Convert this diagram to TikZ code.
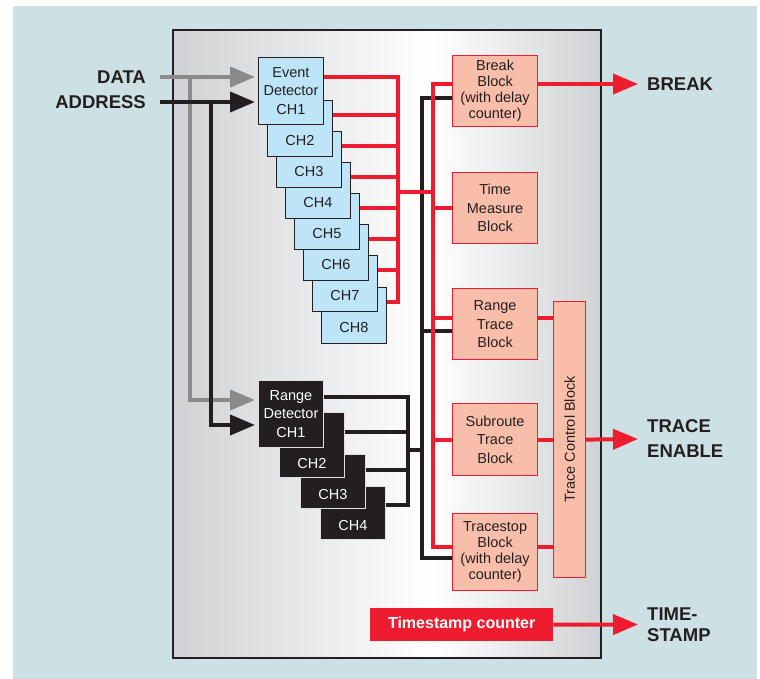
\documentclass[tikz,border=0pt]{standalone}
\usepackage{fontspec}
\setmainfont{Liberation Sans}
\usetikzlibrary{arrows.meta}
\definecolor{bgblue}{RGB}{205,224,228}
\definecolor{boxgray}{RGB}{207,209,212}
\definecolor{evblue}{RGB}{190,228,247}
\definecolor{rdred}{RGB}{237,28,46}
\definecolor{salmon}{RGB}{249,190,170}
\definecolor{inkblack}{RGB}{35,31,32}
\definecolor{dgray}{RGB}{138,138,138}

\begin{document}
\begin{tikzpicture}[x=1pt,y=-1pt,>={Triangle[length=25pt,width=20pt]},line join=miter,
  every node/.style={font=\fontsize{14.5}{18.5}\selectfont,text=inkblack,inner sep=0pt},
  evbox/.style={draw=inkblack,line width=0.9pt,fill=evblue,minimum width=65pt,anchor=north west,align=center},
  evch/.style={draw=inkblack,line width=0.9pt,fill=evblue,minimum width=65pt,anchor=north west,text height=45.5pt,text depth=10.5pt},
  rgbox/.style={draw=white!75!gray,line width=0.9pt,fill=inkblack,text=white,minimum width=65pt,anchor=north west,align=center},
  rgch/.style={draw=white!75!gray,line width=0.9pt,fill=inkblack,text=white,minimum width=65pt,anchor=north west,text depth=9pt},
  blk/.style={draw=rdred,line width=1.2pt,fill=salmon,minimum width=85pt,minimum height=71pt,anchor=north west,align=center},
  fourline/.style={font=\fontsize{14.5}{16}\selectfont},
  biglab/.style={font=\fontsize{18.5}{25}\selectfont\bfseries,align=left},
  redline/.style={draw=rdred,line width=4pt},
  blkline/.style={draw=inkblack,line width=4pt},
  grayline/.style={draw=dgray,line width=4pt}]

\useasboundingbox (0,0) rectangle (760,679);
\fill[bgblue] (13,6) rectangle (757,679);
\shade[left color=boxgray,right color=white] (173,30) rectangle (432,658);
\shade[left color=white,right color=boxgray] (432,30) rectangle (601,658);
\draw[line width=2.5pt,inkblack] (173,30) rectangle (601,658);

\node[biglab,anchor=east,inner xsep=14pt] (dlab) at (160,77) {DATA};
\node[biglab,anchor=east,inner xsep=14pt] (alab) at (160,102) {ADDRESS};

\node[evch] (ev8) at (321,287) {CH8};
\node[evch] (ev7) at (312,255) {CH7};
\node[evch] (ev6) at (303,224) {CH6};
\node[evch] (ev5) at (294,193) {CH5};
\node[evch] (ev4) at (285,162) {CH4};
\node[evch] (ev3) at (276,131) {CH3};
\node[evch] (ev2) at (267,100) {CH2};
\node[evbox,minimum height=67pt] (ev1) at (258,57) {Event\\Detector\\CH1};

\node[rgch,text height=44pt] (rg4) at (320,486) {CH4};
\node[rgch,text height=45pt] (rg3) at (300,454) {CH3};
\node[rgch,text height=56pt] (rg2) at (279,412) {CH2};
\node[rgbox,minimum height=67pt] (rg1) at (258,380) {Range\\Detector\\CH1};

\node[blk,fourline] (brk) at (452,55) {Break\\Block\\(with delay\\counter)};
\node[blk] (tm) at (452,172) {Time\\Measure\\Block};
\node[blk] (rt) at (452,288) {Range\\Trace\\Block};
\node[blk,minimum height=72pt] (sr) at (452,403) {Subroute\\Trace\\Block};
\node[blk,fourline,minimum height=77pt] (ts) at (452,513) {Tracestop\\Block\\(with delay\\counter)};
\node[blk,minimum width=32pt,minimum height=276pt] (tcb) at (553,301) {\rotatebox{90}{Trace Control Block}};
\node[fill=rdred,text=white,font=\fontsize{16}{18}\selectfont\bfseries,minimum width=183pt,minimum height=33pt,anchor=north west] (tsc) at (370,608) {Timestamp counter};

\node[biglab,anchor=west,inner xsep=9pt] (brklab) at (638,84) {BREAK};
\node[biglab,anchor=west,inner xsep=9pt] (trlab) at (638,439) {TRACE\\ENABLE};
\node[biglab,anchor=west,inner xsep=9pt,font=\fontsize{18.5}{21}\selectfont\bfseries] (tmlab) at (638,624.5) {TIME-\\STAMP};

\coordinate (evbus) at (398,192);
\coordinate (rjoin) at (433,192);
\coordinate (bjoin) at (422,450);
\coordinate (rgbus) at (408,450);
\coordinate (rtr) at ([yshift=-30pt]rt.north west);
\coordinate (tsr) at ([yshift=-34pt]ts.north west);

\draw[grayline,->,shorten >=3pt] (dlab.east) -- ([yshift=-20pt]ev1.north west);
\draw[grayline,->,shorten >=3pt] ([xshift=30pt]dlab.east) |- ([yshift=-20pt]rg1.north west);
\draw[blkline,->,shorten >=3pt] (alab.east) -- ([yshift=-45pt]ev1.north west);
\draw[blkline,->,shorten >=3pt] ([xshift=51pt]alab.east) |- ([yshift=-45pt]rg1.north west);

\draw[blkline] ([yshift=-17pt]rg1.north east) -| (rgbus);
\draw[blkline] ([yshift=-20pt]rg2.north east) -| (rgbus);
\draw[blkline] ([yshift=-16pt]rg3.north east) -| (rgbus);
\draw[blkline] ([yshift=-19pt]rg4.north east) -| (rgbus);
\draw[blkline] (rgbus) -- (bjoin);
\draw[blkline] ([yshift=-43pt]brk.north west) -| (bjoin);
\draw[blkline] ([yshift=-43pt]rt.north west) -| (bjoin);
\draw[blkline] ([yshift=-45pt]ts.north west) -| (bjoin);

\draw[redline] ([yshift=-20pt]ev1.north east) -| (evbus);
\draw[redline] ([yshift=-15pt]ev2.north east) -| (evbus);
\draw[redline] ([yshift=-15pt]ev3.north east) -| (evbus);
\draw[redline] ([yshift=-15pt]ev4.north east) -| (evbus);
\draw[redline] ([yshift=-15pt]ev5.north east) -| (evbus);
\draw[redline] ([yshift=-15pt]ev6.north east) -| (evbus);
\draw[redline] ([yshift=-15pt]ev7.north east) -| (evbus);
\draw[redline] ([yshift=-15pt]ev8.north east) -| (evbus);
\draw[redline] (evbus) -- (rjoin);

\draw[redline] ([yshift=-29pt]brk.north west) -| (rjoin);
\draw[redline] (tm.west) -| (rjoin);
\draw[redline] (rtr) -| (rjoin);
\draw[redline] (sr.west) -| (rjoin);
\draw[redline] (tsr) -| (rjoin);

\draw[redline] (rtr -| rt.east) -- (rtr -| tcb.west);
\draw[redline] (sr.east) -- (sr.east -| tcb.west);
\draw[redline] (tsr -| ts.east) -- (tsr -| tcb.west);

\draw[redline,->] ([yshift=-29pt]brk.north east) -- (brklab.west);
\draw[redline,->] (tcb.east) -- (trlab.west);
\draw[redline,->] (tsc.east) -- (tmlab.west);

\end{tikzpicture}
\end{document}
